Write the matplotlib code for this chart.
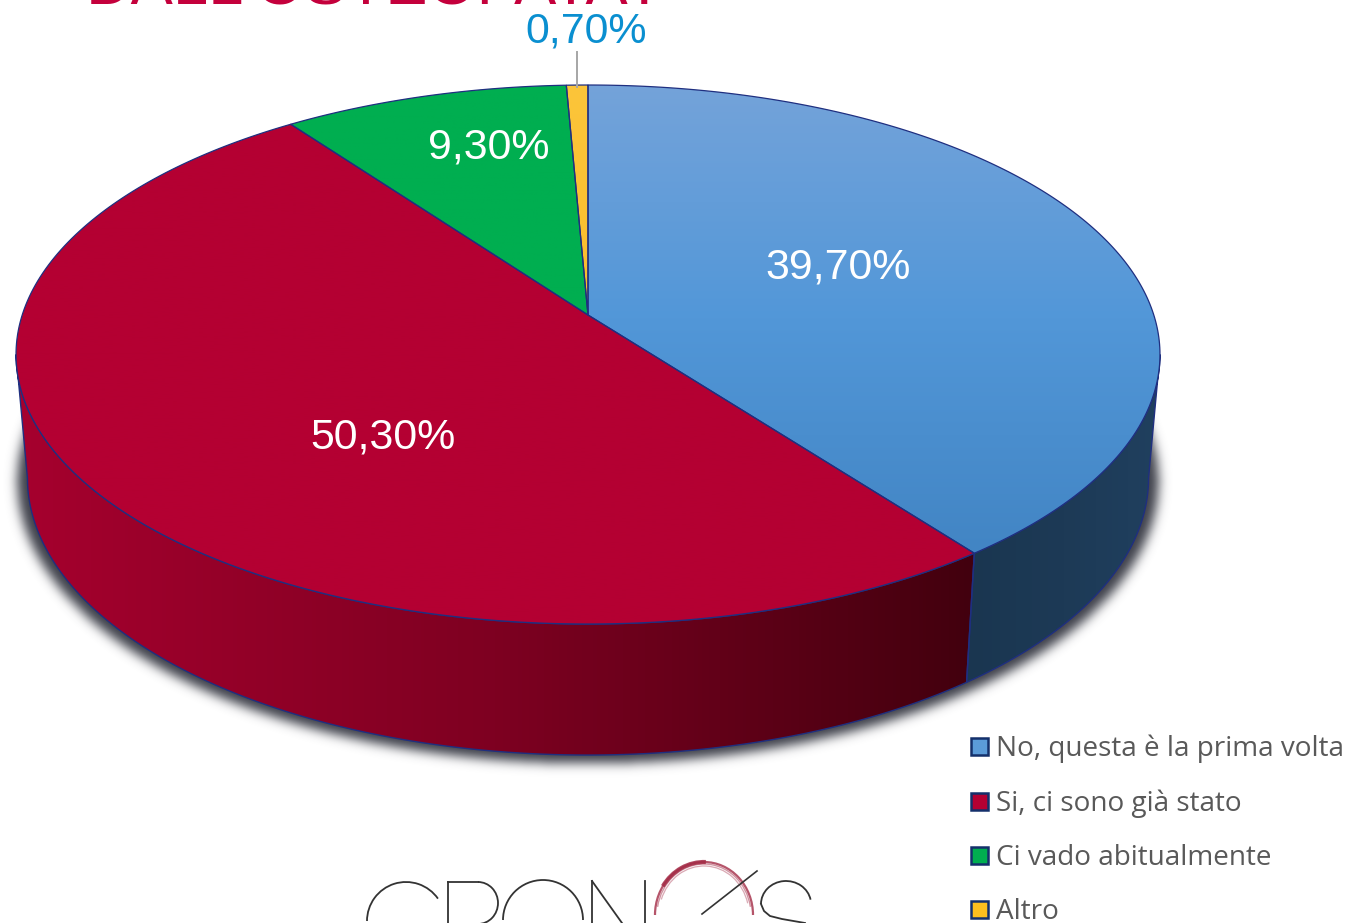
# -*- coding: utf-8 -*-
import numpy as np
import matplotlib
matplotlib.use("Agg")
import matplotlib.pyplot as plt
from matplotlib.colors import LinearSegmentedColormap
from matplotlib.patches import Polygon, Rectangle, Arc
from matplotlib.path import Path

categories = ["No, questa è la prima volta", "Si, ci sono già stato", "Ci vado abitualmente", "Altro"]
values = [39.7, 50.3, 9.3, 0.7]
value_labels = ["39,70%", "50,30%", "9,30%", "0,70%"]
title_text = "DALL'OSTEOPATA?"

# pie geometry in pixels (perspective view of a circle)
W, H = 1347, 923
CX, CY = 588, 315
A, B, K = 565.8, 263.7, 0.1466
WALL_SX, WALL_SY, WALL_DY = 0.98, 1.0278, 113.7


def rim(theta):
    u, v = np.sin(theta), np.cos(theta)
    w = 1 + K * v
    return CX + A * u / w, CY - B * v / w


def bottom(x, y):
    return CX + (x - CX) * WALL_SX, y * WALL_SY + WALL_DY


def gradient_fill(ax, poly, colors, vertical, zorder):
    cmap = LinearSegmentedColormap.from_list("g", colors)
    grad = np.linspace(0, 1, 256)
    grad = grad[:, None] if vertical else grad[None, :]
    x, y = poly[:, 0], poly[:, 1]
    im = ax.imshow(grad, cmap=cmap, origin="upper", aspect="auto", zorder=zorder,
                   extent=(x.min(), x.max(), y.max(), y.min()))
    patch = Polygon(poly, closed=True, fc="none", ec="none", transform=ax.transData)
    ax.add_patch(patch)
    im.set_clip_path(patch)


def soft_shadow(ax, sigma=5.5, grow=1.018, drop=3, color=(0.24, 0.25, 0.29), zorder=1):
    t = np.linspace(0, 2 * np.pi, 500)
    x, y = bottom(*rim(t))
    ym = y.mean()
    pts = np.column_stack([CX + (x - CX) * grow, ym + (y - ym) * grow + drop])
    yy, xx = np.mgrid[0:H, 0:W]
    grid = np.column_stack([xx.ravel() + 0.5, yy.ravel() + 0.5])
    mask = Path(pts).contains_points(grid).reshape(H, W).astype(float)
    fy = np.fft.fftfreq(H)[:, None]
    fx = np.fft.rfftfreq(W)[None, :]
    blur = np.exp(-2 * (np.pi * sigma) ** 2 * (fx ** 2 + fy ** 2))
    alpha = np.clip(np.fft.irfft2(np.fft.rfft2(mask) * blur, s=(H, W)), 0, 1)
    rgba = np.zeros((H, W, 4))
    rgba[..., :3] = color
    rgba[..., 3] = alpha
    ax.imshow(rgba, extent=(0, W, H, 0), aspect="auto", zorder=zorder)


fig = plt.figure(figsize=(13.47, 9.23), dpi=100)
ax = fig.add_axes([0, 0, 1, 1])
ax.set_xlim(0, W)
ax.set_ylim(H, 0)
ax.axis("off")

edges = np.cumsum([0] + values) / 100 * 2 * np.pi
top_colors = [["#74a3da", "#5297d8", "#4285c4"], ["#b40032", "#b40032"], ["#00ae50", "#00ae50"], ["#fcc53a", "#fbbd2c"]]
side_colors = [["#1a3650", "#1d3a56", "#20405f"], ["#a6002e", "#7e0021", "#42000e"]]
line_col = "#1f2f80"

soft_shadow(ax)

# side wall: only the front part of the rim, between the two silhouette points
t_right = np.arccos(-K)
t_left = 2 * np.pi - t_right
for i in [0, 1]:
    t = np.linspace(max(edges[i], t_right), min(edges[i + 1], t_left), 200)
    x, y = rim(t)
    x2, y2 = bottom(x, y)
    poly = np.column_stack([np.r_[x, x2[::-1]], np.r_[y, y2[::-1]]])
    gradient_fill(ax, poly, side_colors[i], False, 2)
    ax.add_patch(Polygon(poly, closed=True, fc="none", ec=line_col, lw=1.0, zorder=3))

# top face
for i in range(len(values)):
    t = np.linspace(edges[i], edges[i + 1], 200)
    x, y = rim(t)
    poly = np.column_stack([np.r_[CX, x], np.r_[CY, y]])
    gradient_fill(ax, poly, top_colors[i], True, 4)
    ax.add_patch(Polygon(poly, closed=True, fc="none", ec=line_col, lw=0.9, zorder=5))

# data labels
label_font = ["Liberation Sans", "DejaVu Sans"]
label_pos = [(838, 268), (383, 438), (489, 148), (586, 31)]
label_col = ["white", "white", "white", "#0a8fd0"]
for txt, (lx, ly), c in zip(value_labels, label_pos, label_col):
    ax.text(lx, ly, txt, color=c, fontsize=30.9, family=label_font, ha="center", va="center", zorder=7)
ax.plot([577, 577], [52, 87], color="#a6a6a6", lw=1.4, zorder=6)

# title cut by the top of the picture
ax.text(375, 4.5, title_text, color="#c4003c", fontsize=45.5, family=label_font, ha="center",
        va="baseline", zorder=7, clip_on=False)

# legend
legend_y = [746, 801, 855, 909]
legend_fill = ["#5b9bd8", "#b40032", "#00ae50", "#fdbf1e"]
for name, ly, c in zip(categories, legend_y, legend_fill):
    ax.add_patch(Rectangle((970.5, ly - 8.5), 17, 17, fc=c, ec="#14306b", lw=1.8, zorder=7))
    ax.text(996, ly + 3, name, color="#595959", fontsize=20.05, family=["Open Sans", "DejaVu Sans"],
            ha="left", va="center", zorder=7)

# logo, only the top of it is in the frame
dark = "#333333"
for cx_, cy_, d, a1, a2 in [(406, 921, 78, 180, 325), (543, 920, 80, 180, 360)]:
    ax.add_patch(Arc((cx_, cy_), d, d, theta1=a1, theta2=a2, color=dark, lw=1.3, zorder=7))
ax.add_patch(Arc((786, 904), 50, 46, theta1=180, theta2=350, color=dark, lw=1.3, zorder=7))
ax.plot([448, 448], [882, 923], color=dark, lw=1.3, zorder=7)
ax.plot([448, 478], [882, 882], color=dark, lw=1.3, zorder=7)
ax.add_patch(Arc((478, 903), 40, 42, theta1=270, theta2=90 + 360, color=dark, lw=1.3, zorder=7))
ax.plot([592, 592], [923, 881], color=dark, lw=1.3, zorder=7)
ax.plot([592, 622], [881, 923], color=dark, lw=1.3, zorder=7)
ax.plot([645, 645], [881, 923], color=dark, lw=1.3, zorder=7)
ax.plot([702, 757], [914, 871], color=dark, lw=1.2, zorder=8)
ax.plot([761, 764, 770, 782, 805], [904, 911, 916, 919, 923], color=dark, lw=1.3, zorder=7)
for dx, dy, a1, a2, lw, al in [(98, 106, 180, 360, 1.6, 0.8), (94, 102, 190, 350, 1.0, 0.5),
                               (90, 98, 200, 345, 0.9, 0.4), (98, 106, 215, 272, 3.0, 0.85)]:
    ax.add_patch(Arc((704, 915), dx, dy, theta1=a1, theta2=a2, color="#a32a45", lw=lw, alpha=al, zorder=7))

fig.savefig("out.png", dpi=100)
